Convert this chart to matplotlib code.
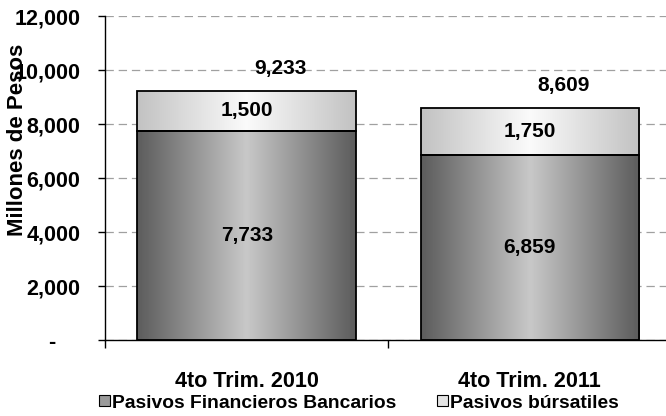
import numpy as np
import matplotlib
matplotlib.use("Agg")
import matplotlib.pyplot as plt
from matplotlib.patches import Rectangle
from matplotlib.colors import LinearSegmentedColormap
from matplotlib.ticker import FixedLocator

categories = ["4to Trim. 2010", "4to Trim. 2011"]
bancarios = [7733, 6859]
bursatiles = [1500, 1750]
totals = [9233, 8609]
series_names = ["Pasivos Financieros Bancarios", "Pasivos búrsatiles"]
yticks = [0, 2000, 4000, 6000, 8000, 10000, 12000]
ytick_labels = ["-    ", "2,000", "4,000", "6,000", "8,000", "10,000", "12,000"]

plt.rcParams['font.family'] = ['Liberation Sans', 'DejaVu Sans']
plt.rcParams['font.weight'] = 'bold'
plt.rcParams['lines.scale_dashes'] = False

fig = plt.figure(figsize=(6.66, 4.16), dpi=100)
ax = fig.add_axes([0.158, 0.1827, 0.850, 0.7788])

x = np.arange(len(categories))
width = 0.772

cmap_dark = LinearSegmentedColormap.from_list("d", ["#5c5c5c", "#c8c8c8", "#5c5c5c"])
cmap_light = LinearSegmentedColormap.from_list("l", ["#c2c2c2", "#fbfbfb", "#c2c2c2"])
grad = np.linspace(0, 1, 256).reshape(1, -1)

b1 = ax.bar(x, bancarios, width, facecolor='none', edgecolor='black', linewidth=1.3, zorder=3)
b2 = ax.bar(x, bursatiles, width, bottom=bancarios, facecolor='none', edgecolor='black', linewidth=1.3, zorder=3)

for bars, cm in ((b1, cmap_dark), (b2, cmap_light)):
    for r in bars:
        x0, y0 = r.get_x(), r.get_y()
        w, h = r.get_width(), r.get_height()
        im = ax.imshow(grad, cmap=cm, aspect='auto', extent=(x0, x0 + w, y0, y0 + h),
                       interpolation='bilinear', zorder=2)
        im.set_clip_path(r)

ax.set_xlim(-0.5, 1.5)
ax.set_ylim(0, 12000)

for i in range(len(categories)):
    ax.text(x[i], bancarios[i] / 2, f"{bancarios[i]:,}", ha='center', va='center',
            fontsize=15, fontweight='bold', zorder=4)
    ax.text(x[i], bancarios[i] + bursatiles[i] / 2, f"{bursatiles[i]:,}", ha='center', va='center',
            fontsize=15, fontweight='bold', zorder=4)
    ax.annotate(f"{totals[i]:,}", (x[i] + 0.12, totals[i]), xytext=(0, 9), textcoords='offset points',
                ha='center', va='bottom', fontsize=15, fontweight='bold', zorder=4)

ax.set_yticks(yticks)
ax.set_yticklabels(ytick_labels, fontsize=15.5, fontweight='bold')
ax.tick_params(axis='y', length=5, width=1, pad=13, direction='out')
ax.yaxis.grid(True, color='#a0a0a0', linestyle=(0, (6, 3.5)), linewidth=0.9)
ax.set_axisbelow(True)

ax.set_xticks(x)
ax.set_xticklabels(categories, fontsize=15.5, fontweight='bold')
ax.tick_params(axis='x', which='major', length=0, pad=22)
ax.xaxis.set_minor_locator(FixedLocator([-0.5, 0.5, 1.5]))
ax.tick_params(axis='x', which='minor', length=6, width=1, direction='out')

for s in ['top', 'right']:
    ax.spines[s].set_visible(False)
ax.spines['left'].set_linewidth(1)
ax.spines['bottom'].set_linewidth(1)

fig.text(18 / 666, 1 - 140 / 416, "Millones de Pesos", rotation=90, ha='center', va='center',
         fontsize=16, fontweight='bold')

handles = [Rectangle((0, 0), 1, 1, facecolor='#9a9a9a', edgecolor='black', linewidth=0.8),
           Rectangle((0, 0), 1, 1, facecolor='#e4e4e4', edgecolor='black', linewidth=0.8)]
leg = fig.legend(handles, series_names, loc='center', bbox_to_anchor=(359 / 666, 1 - 403 / 416),
                 ncol=2, frameon=False, prop={'size': 13.9, 'weight': 'bold'},
                 handlelength=0.55, handleheight=0.55, handletextpad=0.12, columnspacing=2.1,
                 borderpad=0, borderaxespad=0)

fig.savefig("out.png", dpi=100)
